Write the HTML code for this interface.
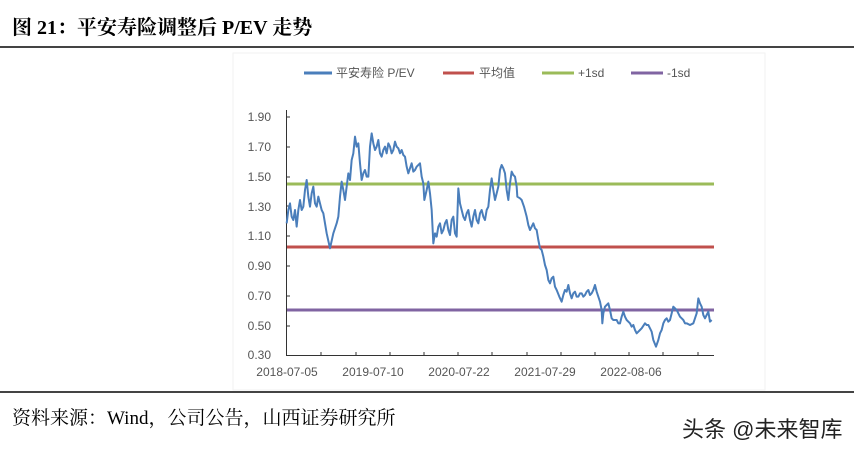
<!DOCTYPE html>
<html><head><meta charset="utf-8"><style>
body{margin:0;background:#fff;width:854px;height:453px;overflow:hidden;position:relative;font-family:"Liberation Sans","Noto Sans CJK SC",sans-serif}
.t{position:absolute;left:12px;top:11px;font-family:"Liberation Serif","Noto Serif CJK SC",serif;font-size:20px;font-weight:bold;color:#000}
.s{position:absolute;left:12px;top:403px;font-family:"Liberation Serif","Noto Serif CJK SC",serif;font-size:19px;color:#000}
.w{position:absolute;left:682px;top:412px;font-size:22px;color:#222}
</style></head><body>
<div class="t">图 21：平安寿险调整后 P/EV 走势</div>
<div style="position:absolute;left:0;top:46px;width:854px;height:2px;background:#444"></div>
<div style="position:absolute;left:0;top:391px;width:854px;height:2px;background:#444"></div>
<div class="s">资料来源：Wind，公司公告，山西证券研究所</div>
<div class="w">头条 @未来智库</div>
<svg width="854" height="453" style="position:absolute;left:0;top:0" font-family="Liberation Sans, Noto Sans CJK SC, sans-serif" font-size="12" fill="#555">
<rect x="233" y="53" width="532" height="337" fill="none" stroke="#f2f2f2"/>
<g font-size="12">
<line x1="304" y1="73" x2="332" y2="73" stroke="#4a7ebb" stroke-width="3"/><text x="336" y="77">平安寿险 P/EV</text>
<line x1="443" y1="73" x2="474" y2="73" stroke="#c0504d" stroke-width="3"/><text x="479" y="77">平均值</text>
<line x1="542" y1="73" x2="574" y2="73" stroke="#9bbb59" stroke-width="3"/><text x="578" y="77">+1sd</text>
<line x1="631" y1="73" x2="663" y2="73" stroke="#8064a2" stroke-width="3"/><text x="667" y="77">-1sd</text>
</g>
<g text-anchor="end">
<text x="271" y="121">1.90</text><text x="271" y="151">1.70</text><text x="271" y="181">1.50</text><text x="271" y="211">1.30</text><text x="271" y="240">1.10</text><text x="271" y="270">0.90</text><text x="271" y="300">0.70</text><text x="271" y="330">0.50</text><text x="271" y="359">0.30</text>
</g>
<g stroke="#333" stroke-width="1">
<line x1="286.5" y1="110" x2="286.5" y2="355"/>
<line x1="286" y1="355.5" x2="714" y2="355.5"/>
<line x1="287" y1="117" x2="290" y2="117"/><line x1="287" y1="147" x2="290" y2="147"/><line x1="287" y1="177" x2="290" y2="177"/><line x1="287" y1="206" x2="290" y2="206"/><line x1="287" y1="236" x2="290" y2="236"/><line x1="287" y1="266" x2="290" y2="266"/><line x1="287" y1="296" x2="290" y2="296"/><line x1="287" y1="326" x2="290" y2="326"/>
<line x1="321" y1="352" x2="321" y2="355"/><line x1="356" y1="352" x2="356" y2="355"/><line x1="390" y1="352" x2="390" y2="355"/><line x1="424" y1="352" x2="424" y2="355"/><line x1="458" y1="352" x2="458" y2="355"/><line x1="492" y1="352" x2="492" y2="355"/><line x1="527" y1="352" x2="527" y2="355"/><line x1="561" y1="352" x2="561" y2="355"/><line x1="595" y1="352" x2="595" y2="355"/><line x1="629" y1="352" x2="629" y2="355"/><line x1="663" y1="352" x2="663" y2="355"/><line x1="698" y1="352" x2="698" y2="355"/>
</g>
<g text-anchor="middle">
<text x="287" y="376">2018-07-05</text><text x="373" y="376">2019-07-10</text><text x="459" y="376">2020-07-22</text><text x="545" y="376">2021-07-29</text><text x="631" y="376">2022-08-06</text>
</g>
<line x1="287" y1="184" x2="714" y2="184" stroke="#9bbb59" stroke-width="3"/>
<line x1="287" y1="247" x2="714" y2="247" stroke="#c0504d" stroke-width="3"/>
<line x1="287" y1="310" x2="714" y2="310" stroke="#8064a2" stroke-width="3"/>
<g transform="translate(280,110) scale(0.33333)">
<polyline fill="none" stroke="#4a7ebb" stroke-width="6" stroke-linejoin="round" points="20,340 25,300 30,280 35,320 40,330 45,300 50,350 55,300 60,270 65,300 70,290 75,240 80,210 85,260 90,290 95,250 100,230 105,280 110,290 115,260 120,280 125,300 130,310 140,370 150,415 160,370 170,340 175,320 180,260 185,215 190,240 195,270 200,230 205,190 210,210 215,150 220,130 225,80 230,110 235,100 240,160 245,210 250,190 255,180 260,200 265,200 270,110 275,70 280,100 285,120 290,110 295,90 300,130 305,140 310,120 315,110 320,130 325,100 330,110 335,130 340,120 345,95 350,110 355,115 360,130 365,120 370,135 375,140 380,170 385,190 390,175 395,160 400,185 405,180 410,170 420,160 425,200 430,220 433,270 440,240 445,215 450,250 455,300 460,400 465,370 470,380 475,350 480,340 485,370 490,360 495,340 500,330 505,360 510,375 515,330 520,320 525,370 530,380 535,235 540,280 545,300 550,320 555,330 560,310 565,300 570,330 575,350 580,320 585,300 590,330 595,340 600,310 605,300 610,320 615,330 620,300 625,290 630,240 635,205 640,240 645,270 650,250 655,230 660,180 665,165 670,175 675,190 680,240 685,270 690,220 695,185 700,195 705,200 710,230 712,260 720,265 725,270 732,290 740,320 745,345 750,360 755,350 760,340 765,355 770,360 775,390 780,415 785,420 790,440 795,465 800,480 805,510 810,520 815,505 820,500 825,530 830,540 838,560 845,575 850,555 855,540 860,545 865,525 870,550 875,565 880,550 885,545 890,560 895,560 900,550 905,550 910,560 915,555 920,545 925,540 930,555 935,550 940,540 945,525 950,545 955,560 960,575 965,600 967,640 970,610 975,590 980,585 985,580 990,600 995,625 1000,630 1010,630 1015,640 1020,640 1025,620 1030,605 1035,620 1040,630 1045,635 1050,640 1055,650 1060,645 1065,660 1070,670 1075,665 1080,660 1085,655 1095,640 1100,645 1105,645 1110,655 1115,665 1120,690 1128,710 1135,690 1140,670 1145,660 1150,640 1155,630 1160,625 1165,635 1170,630 1175,610 1180,590 1185,595 1190,600 1195,610 1200,620 1205,625 1210,630 1215,640 1220,640 1230,645 1240,640 1245,625 1250,610 1255,565 1260,580 1265,590 1270,615 1275,625 1280,615 1285,605 1290,635 1295,630"/>
</g>
</svg>
</body></html>
